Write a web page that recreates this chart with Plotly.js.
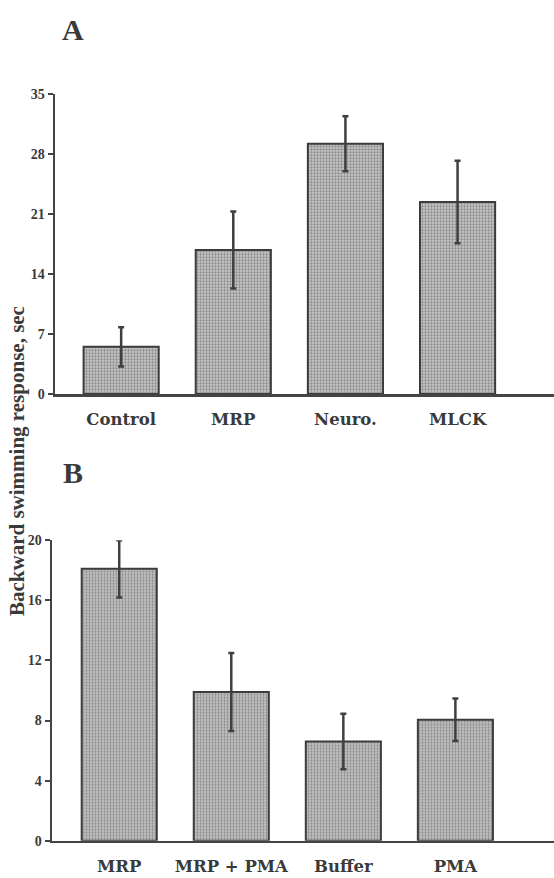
<!DOCTYPE html>
<html>
<head>
<meta charset="utf-8">
<script src="https://cdn.plot.ly/plotly-3.0.1.min.js"></script>
<style>html,body{margin:0;padding:0;background:#fff;}#chart{width:554px;height:878px;}</style>
</head>
<body>
<div id="chart"></div>
<script>
// Panel A data
const catsA = ["Control", "MRP", "Neuro.", "MLCK"];
const valsA = [5.5, 16.8, 29.2, 22.4];
const errA = [2.3, 4.5, 3.2, 4.8];
const ticksA = [0, 7, 14, 21, 28, 35];

// Panel B data
const catsB = ["MRP", "MRP + PMA", "Buffer", "PMA"];
const valsB = [18.1, 9.9, 6.6, 8.05];
const errB = [1.9, 2.6, 1.85, 1.42];
const ticksB = [0, 4, 8, 12, 16, 20];

const yTitle = "Backward swimming response, sec";

const ink = "#3a3a3a";
const serif = "Liberation Serif, Times New Roman, serif";
const wideSerif = "DejaVu Serif, Liberation Serif, serif";

function barTrace(cats, vals, errs, xa, ya) {
  return {
    type: "bar", x: cats, y: vals, xaxis: xa, yaxis: ya,
    width: 0.67,
    marker: {
      color: "#c2c2c2",
      line: {color: "#3c3c3c", width: 2},
      pattern: {shape: ".", fgcolor: "#8c8c8c", bgcolor: "#c8c8c8", size: 3, solidity: 0.45}
    },
    error_y: {type: "data", array: errs, visible: true, color: "#3f3f3f", thickness: 2.5, width: 3},
    hoverinfo: "none", showlegend: false
  };
}

const axisCommon = {
  showgrid: false, zeroline: false, showline: true, linecolor: "#444", linewidth: 2.5,
  ticks: "outside", ticklen: 5, tickwidth: 2, tickcolor: "#444",
  tickfont: {family: serif, size: 14, color: ink, weight: "bold"}, fixedrange: true
};

const catFont = {family: wideSerif, size: 16.5, color: ink, weight: "bold"};

const data = [
  barTrace(catsA, valsA, errA, "x", "y"),
  barTrace(catsB, valsB, errB, "x2", "y2")
];

const layout = {
  width: 554, height: 878,
  margin: {l: 0, r: 0, t: 0, b: 0},
  paper_bgcolor: "#fff", plot_bgcolor: "rgba(0,0,0,0)",
  xaxis: Object.assign({}, axisCommon, {
    domain: [55/554, 1], anchor: "y", range: [-0.59, 3.86], ticks: "",
    tickfont: catFont, ticklabelstandoff: 9
  }),
  yaxis: Object.assign({}, axisCommon, {
    domain: [1 - 394/878, 1 - 94/878], anchor: "x", range: [0, 35],
    tickmode: "array", tickvals: ticksA, ticktext: ticksA.map(String)
  }),
  xaxis2: Object.assign({}, axisCommon, {
    domain: [52/554, 1], anchor: "y2", range: [-0.60, 3.88], ticks: "",
    tickfont: catFont, ticklabelstandoff: 9
  }),
  yaxis2: Object.assign({}, axisCommon, {
    domain: [1 - 840.7/878, 1 - 540.3/878], anchor: "x2", range: [0, 20],
    tickmode: "array", tickvals: ticksB, ticktext: ticksB.map(String)
  }),
  annotations: [
    {text: "A", xref: "paper", yref: "paper", x: 73/554, y: 1 - 30/878, showarrow: false,
     xanchor: "center", yanchor: "middle", font: {family: serif, size: 30, color: ink, weight: "bold"}},
    {text: "B", xref: "paper", yref: "paper", x: 73/554, y: 1 - 472/878, showarrow: false,
     xanchor: "center", yanchor: "middle", font: {family: serif, size: 30, color: ink, weight: "bold"}},
    {text: yTitle, xref: "paper", yref: "paper", x: 17/554, y: 1 - 461/878, showarrow: false,
     textangle: -90, xanchor: "center", yanchor: "middle",
     font: {family: serif, size: 21, color: ink, weight: "bold"}}
  ]
};

Plotly.newPlot("chart", data, layout, {displayModeBar: false, staticPlot: true});
</script>
</body>
</html>
